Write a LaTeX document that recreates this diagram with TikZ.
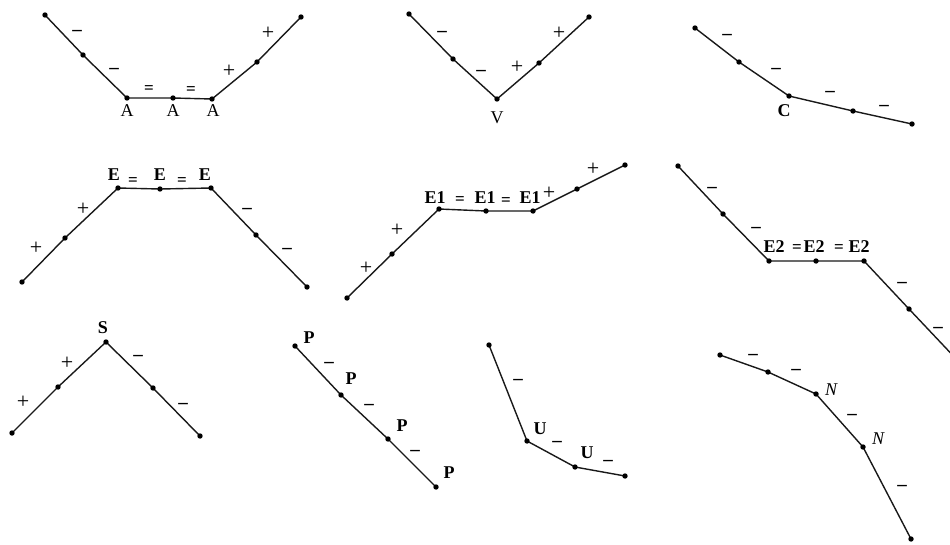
\documentclass[tikz,border=0pt]{standalone}
\usepackage{fontspec}
\setmainfont{Liberation Serif}

\begin{document}
\begin{tikzpicture}[
x=1pt,y=-1pt,
font=\fontsize{18}{21}\selectfont,
seg/.style={line width=1.4pt,black!90},
sgn/.style={inner sep=0pt,font=\fontsize{19}{21}\selectfont\bfseries},
pls/.style={inner sep=0pt,font=\fontsize{22}{24}\selectfont},
eqs/.style={inner sep=0pt,font=\fontsize{17}{18}\selectfont\bfseries},
tag/.style={inner sep=0pt},
btag/.style={inner sep=0pt,font=\fontsize{18}{21}\selectfont\bfseries}
]

\useasboundingbox (0,0) rectangle (950,544);
\clip (0,0) rectangle (950,544);

%%%%%%%%%%%%%%%%%%%%%%%%%%%%%%%%%%%%%%%%%%%%%%%%%%%%%%%%%%
% POINTS
%%%%%%%%%%%%%%%%%%%%%%%%%%%%%%%%%%%%%%%%%%%%%%%%%%%%%%%%%%

% A
\coordinate (a1) at (45,15);
\coordinate (a2) at (83,55);
\coordinate (a3) at (127,98);
\coordinate (a4) at (173,98);
\coordinate (a5) at (212,99);
\coordinate (a6) at (257,62);
\coordinate (a7) at (301,17);

% V
\coordinate (v1) at (409,14);
\coordinate (v2) at (453,59);
\coordinate (v3) at (497,99);
\coordinate (v4) at (539,63);
\coordinate (v5) at (589,17);

% C
\coordinate (c1) at (695,28);
\coordinate (c2) at (739,62);
\coordinate (c3) at (789,96);
\coordinate (c4) at (853,111);
\coordinate (c5) at (912,124);

% E
\coordinate (e1) at (22,282);
\coordinate (e2) at (65,238);
\coordinate (e3) at (118,188);
\coordinate (e4) at (160,189);
\coordinate (e5) at (211,188);
\coordinate (e6) at (256,235);
\coordinate (e7) at (307,287);

% E1
\coordinate (f1) at (347,298);
\coordinate (f2) at (392,254);
\coordinate (f3) at (439,209);
\coordinate (f4) at (486,211);
\coordinate (f5) at (533,211);
\coordinate (f6) at (577,189);
\coordinate (f7) at (625,165);

% E2
\coordinate (g1) at (678,166);
\coordinate (g2) at (723,214);
\coordinate (g3) at (769,261);
\coordinate (g4) at (816,261);
\coordinate (g5) at (864,261);
\coordinate (g6) at (909,309);
\coordinate (gend) at (960,363);

% S
\coordinate (s1) at (12,433);
\coordinate (s2) at (58,387);
\coordinate (s3) at (106,342);
\coordinate (s4) at (153,388);
\coordinate (s5) at (200,436);

% P
\coordinate (p1) at (295,346);
\coordinate (p2) at (341,395);
\coordinate (p3) at (388,439);
\coordinate (p4) at (436,487);

% U
\coordinate (u1) at (489,345);
\coordinate (u2) at (527,441);
\coordinate (u3) at (575,467);
\coordinate (u4) at (625,476);

% N
\coordinate (n1) at (720,355);
\coordinate (n2) at (768,372);
\coordinate (n3) at (816,394);
\coordinate (n4) at (863,447);
\coordinate (n5) at (911,539);

%%%%%%%%%%%%%%%%%%%%%%%%%%%%%%%%%%%%%%%%%%%%%%%%%%%%%%%%%%
% POLYLINES
%%%%%%%%%%%%%%%%%%%%%%%%%%%%%%%%%%%%%%%%%%%%%%%%%%%%%%%%%%

\draw[seg] (a1)--(a2)--(a3)--(a4)--(a5)--(a6)--(a7);
\draw[seg] (v1)--(v2)--(v3)--(v4)--(v5);
\draw[seg] (c1)--(c2)--(c3)--(c4)--(c5);
\draw[seg] (e1)--(e2)--(e3)--(e4)--(e5)--(e6)--(e7);
\draw[seg] (f1)--(f2)--(f3)--(f4)--(f5)--(f6)--(f7);
\draw[seg] (g1)--(g2)--(g3)--(g4)--(g5)--(g6)--(gend);
\draw[seg] (s1)--(s2)--(s3)--(s4)--(s5);
\draw[seg] (p1)--(p2)--(p3)--(p4);
\draw[seg] (u1)--(u2)--(u3)--(u4);
\draw[seg] (n1)--(n2)--(n3)--(n4)--(n5);

\foreach \p in {a1,a2,a3,a4,a5,a6,a7,v1,v2,v3,v4,v5,c1,c2,c3,c4,c5,
e1,e2,e3,e4,e5,e6,e7,f1,f2,f3,f4,f5,f6,f7,g1,g2,g3,g4,g5,g6,
s1,s2,s3,s4,s5,p1,p2,p3,p4,u1,u2,u3,u4,n1,n2,n3,n4,n5}
\fill (\p) circle (2.7pt);

%%%%%%%%%%%%%%%%%%%%%%%%%%%%%%%%%%%%%%%%%%%%%%%%%%%%%%%%%%
% SIGNS AND TAGS
%%%%%%%%%%%%%%%%%%%%%%%%%%%%%%%%%%%%%%%%%%%%%%%%%%%%%%%%%%

% A
\node[sgn](a-m1) at (77,33) {--};
\node[sgn](a-m2) at (114,71) {--};
\node[eqs](a-q1) at (149,90) {=};
\node[eqs](a-q2) at (191,91) {=};
\node[pls](a-p1) at (229,71) {+};
\node[pls](a-p2) at (268,33) {+};
\node[tag](a-t1) at (127,111) {A};
\node[tag](a-t2) at (173,111) {A};
\node[tag](a-t3) at (213,111) {A};

% V
\node[sgn](v-m1) at (442,34) {--};
\node[sgn](v-m2) at (481,73) {--};
\node[pls](v-p1) at (517,67) {+};
\node[pls](v-p2) at (559,33) {+};
\node[tag](v-t) at (497,118) {V};

% C
\node[sgn](c-m1) at (727,37) {--};
\node[sgn](c-m2) at (776,71) {--};
\node[sgn](c-m3) at (830,94) {--};
\node[sgn](c-m4) at (884,108) {--};
\node[btag](c-t) at (784,111) {C};

% E
\node[pls](e-p1) at (36,248) {+};
\node[pls](e-p2) at (83,209) {+};
\node[btag](e-t1) at (114,175) {E};
\node[eqs](e-q1) at (133,182) {=};
\node[btag](e-t2) at (160,175) {E};
\node[eqs](e-q2) at (182,182) {=};
\node[btag](e-t3) at (205,175) {E};
\node[sgn](e-m1) at (247,211) {--};
\node[sgn](e-m2) at (287,251) {--};

% E1
\node[pls](f-p1) at (366,268) {+};
\node[pls](f-p2) at (397,230) {+};
\node[btag](f-t1) at (435,198) {E1};
\node[eqs](f-q1) at (460,201) {=};
\node[btag](f-t2) at (485,198) {E1};
\node[eqs](f-q2) at (506,202) {=};
\node[btag](f-t3) at (530,198) {E1};
\node[pls](f-p3) at (549,193) {+};
\node[pls](f-p4) at (593,169) {+};

% E2
\node[sgn](g-m1) at (712,190) {--};
\node[sgn](g-m2) at (756,230) {--};
\node[btag](g-t1) at (774,247) {E2};
\node[eqs](g-q1) at (797,249) {=};
\node[btag](g-t2) at (814,247) {E2};
\node[eqs](g-q2) at (839,249) {=};
\node[btag](g-t3) at (859,247) {E2};
\node[sgn](g-m3) at (902,285) {--};
\node[sgn](g-m4) at (938,330) {--};

% S
\node[pls](s-p1) at (23,402) {+};
\node[pls](s-p2) at (67,363) {+};
\node[btag](s-t) at (103,328) {S};
\node[sgn](s-m1) at (138,358) {--};
\node[sgn](s-m2) at (183,406) {--};

% P
\node[btag](p-t1) at (309,338) {P};
\node[sgn](p-m1) at (329,365) {--};
\node[btag](p-t2) at (351,379) {P};
\node[sgn](p-m2) at (369,407) {--};
\node[btag](p-t3) at (402,426) {P};
\node[sgn](p-m3) at (415,453) {--};
\node[btag](p-t4) at (449,473) {P};

% U
\node[sgn](u-m1) at (518,382) {--};
\node[btag](u-t1) at (540,429) {U};
\node[sgn](u-m2) at (557,444) {--};
\node[btag](u-t2) at (587,453) {U};
\node[sgn](u-m3) at (608,463) {--};

% N
\node[sgn](n-m1) at (753,357) {--};
\node[sgn](n-m2) at (796,372) {--};
\node[tag,font=\fontsize{18}{21}\selectfont\itshape](n-t1) at (831,390) {N};
\node[sgn](n-m3) at (852,417) {--};
\node[tag,font=\fontsize{18}{21}\selectfont\itshape](n-t2) at (878,439) {N};
\node[sgn](n-m4) at (902,488) {--};

\end{tikzpicture}
\end{document}
